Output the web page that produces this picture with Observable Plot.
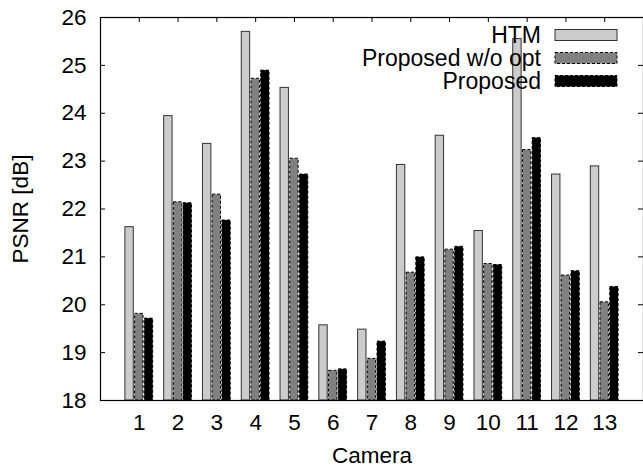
<!DOCTYPE html>
<html>
<head>
<meta charset="utf-8">
<script src="https://cdn.jsdelivr.net/npm/d3@7"></script>
<script src="https://cdn.jsdelivr.net/npm/@observablehq/plot@0.6"></script>
<style>
  html, body { margin: 0; padding: 0; background: #fff; }
  #chart svg { display: block; overflow: visible; }
</style>
</head>
<body>
<div id="chart"></div>
<script>
// ---- data ----
const cameras = [1, 2, 3, 4, 5, 6, 7, 8, 9, 10, 11, 12, 13];
const seriesNames = ["HTM", "Proposed w/o opt", "Proposed"];
const htm      = [21.62, 23.94, 23.36, 25.70, 24.53, 19.57, 19.48, 22.92, 23.53, 21.54, 25.55, 22.72, 22.89];
const woOpt    = [19.81, 22.14, 22.30, 24.72, 23.05, 18.62, 18.87, 20.67, 21.15, 20.85, 23.23, 20.61, 20.05];
const proposed = [19.71, 22.12, 21.76, 24.89, 22.72, 18.65, 19.23, 20.99, 21.21, 20.83, 23.48, 20.70, 20.37];
const yTicks = [18, 19, 20, 21, 22, 23, 24, 25, 26];
const xLabel = "Camera";
const yLabel = "PSNR [dB]";

// ---- layout / style ----
const W = 643, H = 470;
const M = {top: 17, right: 0, bottom: 70, left: 100};
const yMin = 18, yMax = 26;
const font = "'Liberation Sans', Arial, Helvetica, sans-serif";
const fs = 22.5;
const groupOffsets = [-0.25, 0, 0.25];
const halfW = 0.108;
const styles = [
  {fill: "#cccccc", stroke: "#333333", strokeDasharray: null},
  {fill: "#808080", stroke: "#000000", strokeDasharray: "3,2"},
  {fill: "#000000", stroke: "#000000", strokeDasharray: "3,2"}
];
const allSeries = [htm, woOpt, proposed];

const rows = [];
allSeries.forEach((vals, s) => vals.forEach((v, i) => rows.push({camera: cameras[i], s, value: v})));

const fw = W - M.left - M.right, fh = H - M.top - M.bottom;

const barMarks = seriesNames.map((name, s) => Plot.rect(rows.filter(r => r.s === s), {
  x1: d => d.camera + groupOffsets[s] - halfW,
  x2: d => d.camera + groupOffsets[s] + halfW,
  y1: () => yMin,
  y2: d => d.value,
  fill: styles[s].fill,
  stroke: styles[s].stroke,
  strokeWidth: 1,
  strokeDasharray: styles[s].strokeDasharray
}));

function legendMark(index, scales, values, dims) {
  const g = d3.create("svg:g").attr("font-family", font).attr("font-size", fs + 0.5);
  const right = dims.width - dims.marginRight;
  seriesNames.forEach((name, s) => {
    const cy = dims.marginTop + 18 + s * 23;
    g.append("rect")
      .attr("x", right - 88).attr("y", cy - 5.5)
      .attr("width", 62).attr("height", 11)
      .attr("fill", styles[s].fill).attr("stroke", styles[s].stroke)
      .attr("stroke-dasharray", styles[s].strokeDasharray);
    g.append("text")
      .attr("x", right - 102).attr("y", cy).attr("dy", "0.35em")
      .attr("text-anchor", "end").attr("fill", "#000").text(name);
  });
  return g.node();
}

const chart = Plot.plot({
  width: W, height: H,
  marginTop: M.top, marginRight: M.right, marginBottom: M.bottom, marginLeft: M.left,
  style: {fontFamily: font, fontSize: fs + "px", color: "#000", background: "#fff", overflow: "visible"},
  x: {type: "linear", domain: [0, 14], axis: null},
  y: {domain: [yMin, yMax], axis: null},
  marks: [
    // inward tick marks (left, right, top, bottom)
    Plot.tickY(yTicks, {y: d => d, stroke: "#000", insetRight: fw - 5}),
    Plot.tickY(yTicks, {y: d => d, stroke: "#000", insetLeft: fw - 5}),
    Plot.tickX(cameras, {x: d => d, stroke: "#000", insetBottom: fh - 5}),
    Plot.tickX(cameras, {x: d => d, stroke: "#000", insetTop: fh - 5}),
    ...barMarks,
    Plot.frame({stroke: "#000", strokeWidth: 1.2}),
    // tick labels
    Plot.text(yTicks, {y: d => d, text: d => String(d), frameAnchor: "left", textAnchor: "end", dx: -14, fontSize: fs, fill: "#000"}),
    Plot.text(cameras, {x: d => d, text: d => String(d), frameAnchor: "bottom", lineAnchor: "top", dy: 14, fontSize: fs, fill: "#000"}),
    // axis titles
    Plot.text([xLabel], {frameAnchor: "bottom", text: d => d, lineAnchor: "bottom", dy: 62, fontSize: fs, fill: "#000"}),
    Plot.text([yLabel], {frameAnchor: "left", text: d => d, textAnchor: "middle", rotate: -90, dx: -80, fontSize: fs, fill: "#000"}),
    legendMark
  ]
});
document.getElementById("chart").appendChild(chart);
</script>
</body>
</html>
